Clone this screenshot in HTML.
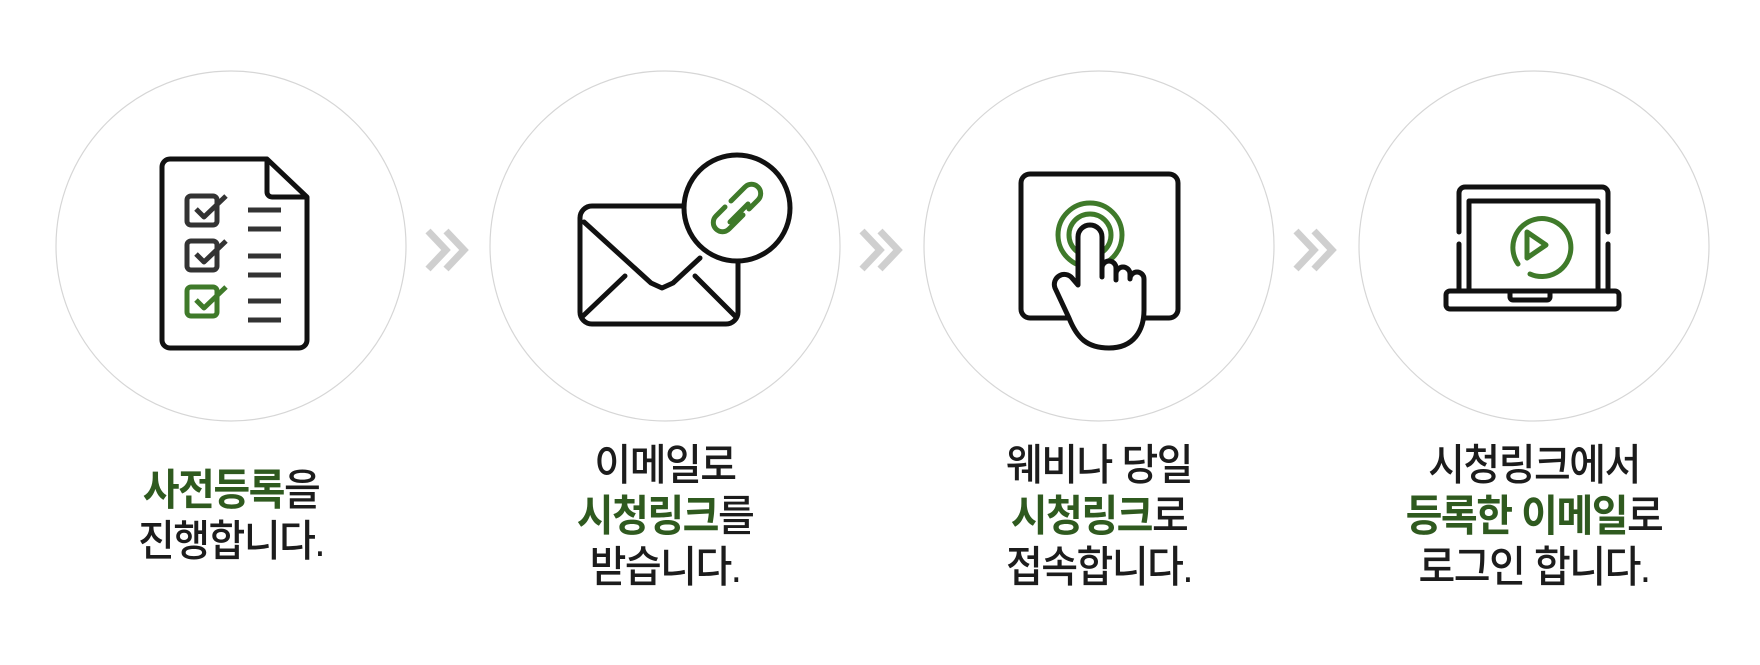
<!DOCTYPE html>
<html><head><meta charset="utf-8"><style>
html,body{margin:0;padding:0;background:#fff;}
body{width:1760px;height:665px;position:relative;overflow:hidden;font-family:"Liberation Sans","Noto Sans CJK KR",sans-serif;}
.t{position:absolute;width:360px;text-align:center;font-size:40px;line-height:47px;color:#1c1c1c;letter-spacing:-1.5px;font-weight:500;transform:scaleY(1.08);}
.t b{color:#2f5a1f;font-weight:700;}
</style></head><body>
<svg width="1760" height="665" style="position:absolute;left:0;top:0">
<g fill="#fff" stroke="#d6d6d6" stroke-width="1.2">
<circle cx="231" cy="246" r="175"/><circle cx="665" cy="246" r="175"/><circle cx="1099" cy="246" r="175"/><circle cx="1534" cy="246" r="175"/>
</g>
<g fill="none" stroke="#cfcfcf" stroke-width="7">
<polyline points="428,231 446,250 428,269"/><polyline points="446,231 464,250 446,269"/>
<polyline points="862,231 880,250 862,269"/><polyline points="880,231 898,250 880,269"/>
<polyline points="1296,231 1314,250 1296,269"/><polyline points="1314,231 1332,250 1314,269"/>
</g>
<g stroke-linejoin="round">
<path d="M170,159 H267 L307,197 V340 a8,8 0 0 1 -8,8 H170 a8,8 0 0 1 -8,-8 V167 a8,8 0 0 1 8,-8Z" fill="#fff" stroke="#111" stroke-width="5"/>
<path d="M267,159 V192 a5,5 0 0 0 5,5 H307" fill="none" stroke="#111" stroke-width="5"/>
<g fill="none" stroke-width="5">
<rect x="187" y="196" width="30" height="29" rx="4" stroke="#333"/><polyline points="196,209 204,217 226,196" stroke="#333"/>
<rect x="187" y="241" width="30" height="29" rx="4" stroke="#333"/><polyline points="196,254 204,262 226,241" stroke="#333"/>
<rect x="187" y="287" width="30" height="29" rx="4" stroke="#3f7a2a"/><polyline points="196,300 204,308 226,287" stroke="#3f7a2a"/>
</g>
<g stroke="#333" stroke-width="5">
<line x1="248" y1="210" x2="281" y2="210"/><line x1="248" y1="229" x2="281" y2="229"/>
<line x1="248" y1="256" x2="281" y2="256"/><line x1="248" y1="275" x2="281" y2="275"/>
<line x1="248" y1="301" x2="281" y2="301"/><line x1="248" y1="320" x2="281" y2="320"/>
</g>
</g>
<g fill="none" stroke="#111" stroke-width="5" stroke-linecap="round" stroke-linejoin="round">
<rect x="580" y="206" width="158" height="118" rx="12" fill="#fff"/>
<polyline points="584,222 651,283 662,288 673,283 700,258"/>
<line x1="583" y1="316" x2="625" y2="276"/><line x1="735" y1="316" x2="695" y2="276"/>
<circle cx="737" cy="208" r="53" fill="#fff"/>
<g stroke="#3f7a2a" stroke-width="5">
<path d="M731,201 l14,-14 a9,9 0 0 1 13,13 l-9,9"/>
<path d="M743,215 l-14,14 a9,9 0 0 1 -13,-13 l9,-9"/>
<line x1="730" y1="222" x2="748" y2="204"/>
</g>
</g>
<g fill="none" stroke-linecap="round" stroke-linejoin="round">
<rect x="1021" y="174" width="157" height="144" rx="9" stroke="#111" stroke-width="5" fill="#fff"/>
<circle cx="1090" cy="235" r="32" stroke="#3f7a2a" stroke-width="5"/>
<circle cx="1090" cy="235" r="21" stroke="#3f7a2a" stroke-width="5"/>
<path d="M1078,285 V237 a12,12 0 0 1 24,0 V268 a7,7 0 0 1 14,0 V274 a7,7 0 0 1 14,0 V279 a7,7 0 0 1 14,0 V310 c0,20 -10,38 -35,38 c-22,0 -32,-10 -40,-30 l-14,-30 a10,10 0 0 1 17,-10 Z" fill="#fff" stroke="#111" stroke-width="5"/>
<line x1="1102" y1="268" x2="1102" y2="277" stroke="#111" stroke-width="5"/>
<line x1="1116" y1="272" x2="1116" y2="280" stroke="#111" stroke-width="5"/>
</g>
<g fill="none" stroke="#111" stroke-width="5" stroke-linecap="round" stroke-linejoin="round">
<path d="M1459,232 V193 a6,6 0 0 1 6,-6 H1602 a6,6 0 0 1 6,6 V232"/>
<path d="M1459,244 V290"/><path d="M1608,244 V290"/>
<path d="M1469,290 V201 H1598 V290"/>
<rect x="1446" y="291" width="173" height="18" rx="4"/>
<path d="M1510,292 v5 a3,3 0 0 0 3,3 H1547 a3,3 0 0 0 3,-3 v-5"/>
<g stroke="#3f7a2a"><path d="M1518,264 A29,29 0 1 1 1530,274"/><path d="M1527,232 L1546,245 L1527,258 Z"/></g>
</g>
</svg>
<div class="t" style="left:51px;top:470px"><b>사전등록</b>을<br>진행합니다.</div>
<div class="t" style="left:485px;top:447px">이메일로<br><b>시청링크</b>를<br>받습니다.</div>
<div class="t" style="left:919px;top:447px">웨비나 당일<br><b>시청링크</b>로<br>접속합니다.</div>
<div class="t" style="left:1354px;top:447px">시청링크에서<br><b>등록한 이메일</b>로<br>로그인 합니다.</div>
</body></html>
